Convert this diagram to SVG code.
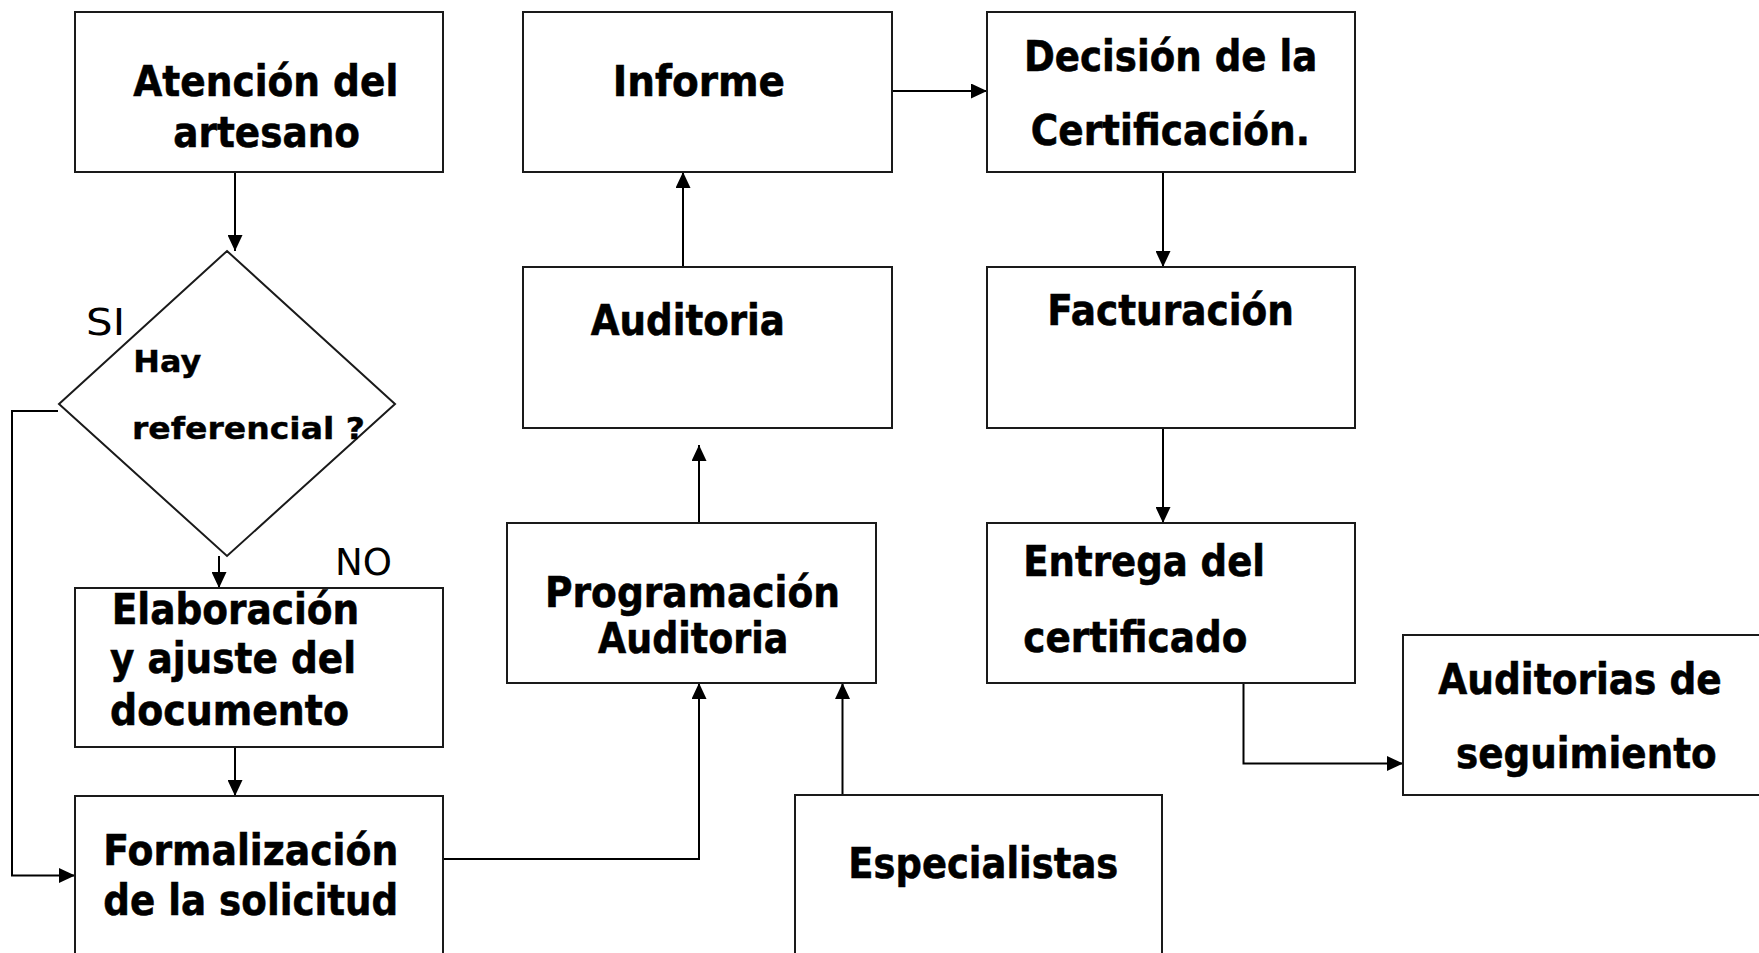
<svg xmlns="http://www.w3.org/2000/svg" width="1759" height="953" viewBox="0 0 1759 953">
<style>
.box{fill:#fff;stroke:#1a1a1a;stroke-width:2}
.b{font-family:"DejaVu Sans",Verdana,sans-serif;font-weight:bold;font-size:43px;fill:#000;stroke:#000;stroke-width:0.6}
.s{font-family:"DejaVu Sans",Verdana,sans-serif;font-weight:bold;font-size:31px;fill:#000;stroke:#000;stroke-width:0.4}
.r{font-family:"DejaVu Sans",Tahoma,sans-serif;font-size:38px;fill:#000}
.c{fill:none;stroke:#000;stroke-width:2;marker-end:url(#ah)}
</style>
<defs>
<marker id="ah" markerUnits="userSpaceOnUse" markerWidth="16" markerHeight="15" refX="16" refY="7.5" orient="auto">
<path d="M0,0 L16,7.5 L0,15 z" fill="#000"/>
</marker>
</defs>
<rect width="1759" height="953" fill="#fff"/>
<g id="connectors">
<path class="c" d="M235,172 V251"/>
<path class="c" d="M58,411 H12 V875.5 H75"/>
<path class="c" d="M219,556 V588"/>
<path class="c" d="M235,747 V796"/>
<path class="c" d="M443,859 H699 V683"/>
<path class="c" d="M842.5,795 V683"/>
<path class="c" d="M699,523 V445"/>
<path class="c" d="M683,267 V172"/>
<path class="c" d="M892,91 H987"/>
<path class="c" d="M1163,172 V267"/>
<path class="c" d="M1163,428 V523"/>
<path class="c" d="M1243.5,683 V763.5 H1403"/>
</g>
<g id="atencion">
<rect class="box" x="75" y="12" width="368" height="160"/>
<text class="b" x="133.3" y="95.7" textLength="265" lengthAdjust="spacingAndGlyphs">Atención del</text>
<text class="b" x="173.3" y="146.7" textLength="186.7" lengthAdjust="spacingAndGlyphs">artesano</text>
</g>
<g id="decision-referencial">
<polygon class="box" points="227,251 395,404 227,556 59,404"/>
<text class="s" x="133.3" y="371.7" textLength="68" lengthAdjust="spacingAndGlyphs">Hay</text>
<text class="s" x="132" y="438.8" textLength="233" lengthAdjust="spacingAndGlyphs">referencial ?</text>
</g>
<g id="label-si"><text class="r" x="86" y="335" textLength="39" lengthAdjust="spacingAndGlyphs">SI</text></g>
<g id="label-no"><text class="r" x="335" y="575.3" textLength="57" lengthAdjust="spacingAndGlyphs">NO</text></g>
<g id="elaboracion">
<rect class="box" x="75" y="588" width="368" height="159"/>
<text class="b" x="111.7" y="624" textLength="247.6" lengthAdjust="spacingAndGlyphs">Elaboración</text>
<text class="b" x="110" y="673.4" textLength="246" lengthAdjust="spacingAndGlyphs">y ajuste del</text>
<text class="b" x="110" y="724.5" textLength="239" lengthAdjust="spacingAndGlyphs">documento</text>
</g>
<g id="formalizacion">
<rect class="box" x="75" y="796" width="368" height="200"/>
<text class="b" x="103.3" y="864.9" textLength="295" lengthAdjust="spacingAndGlyphs">Formalización</text>
<text class="b" x="103.3" y="915" textLength="295" lengthAdjust="spacingAndGlyphs">de la solicitud</text>
</g>
<g id="informe">
<rect class="box" x="523" y="12" width="369" height="160"/>
<text class="b" x="612.7" y="95.7" textLength="172.3" lengthAdjust="spacingAndGlyphs">Informe</text>
</g>
<g id="auditoria">
<rect class="box" x="523" y="267" width="369" height="161"/>
<text class="b" x="590.7" y="335" textLength="194.3" lengthAdjust="spacingAndGlyphs">Auditoria</text>
</g>
<g id="programacion">
<rect class="box" x="507" y="523" width="369" height="160"/>
<text class="b" x="545" y="607" textLength="295" lengthAdjust="spacingAndGlyphs">Programación</text>
<text class="b" x="598" y="653.3" textLength="190.3" lengthAdjust="spacingAndGlyphs">Auditoria</text>
</g>
<g id="especialistas">
<rect class="box" x="795" y="795" width="367" height="200"/>
<text class="b" x="848.3" y="878.3" textLength="270" lengthAdjust="spacingAndGlyphs">Especialistas</text>
</g>
<g id="decision-certificacion">
<rect class="box" x="987" y="12" width="368" height="160"/>
<text class="b" x="1024" y="70.7" textLength="293.3" lengthAdjust="spacingAndGlyphs">Decisión de la</text>
<text class="b" x="1030.7" y="145" textLength="279.3" lengthAdjust="spacingAndGlyphs">Certificación.</text>
</g>
<g id="facturacion">
<rect class="box" x="987" y="267" width="368" height="161"/>
<text class="b" x="1047.3" y="325" textLength="246.7" lengthAdjust="spacingAndGlyphs">Facturación</text>
</g>
<g id="entrega">
<rect class="box" x="987" y="523" width="368" height="160"/>
<text class="b" x="1023.3" y="576" textLength="241.7" lengthAdjust="spacingAndGlyphs">Entrega del</text>
<text class="b" x="1023.3" y="651.7" textLength="224" lengthAdjust="spacingAndGlyphs">certificado</text>
</g>
<g id="auditorias-seguimiento">
<rect class="box" x="1403" y="635" width="380" height="160"/>
<text class="b" x="1438.3" y="694" textLength="283.4" lengthAdjust="spacingAndGlyphs">Auditorias de</text>
<text class="b" x="1456" y="768.3" textLength="260.7" lengthAdjust="spacingAndGlyphs">seguimiento</text>
</g>
</svg>
